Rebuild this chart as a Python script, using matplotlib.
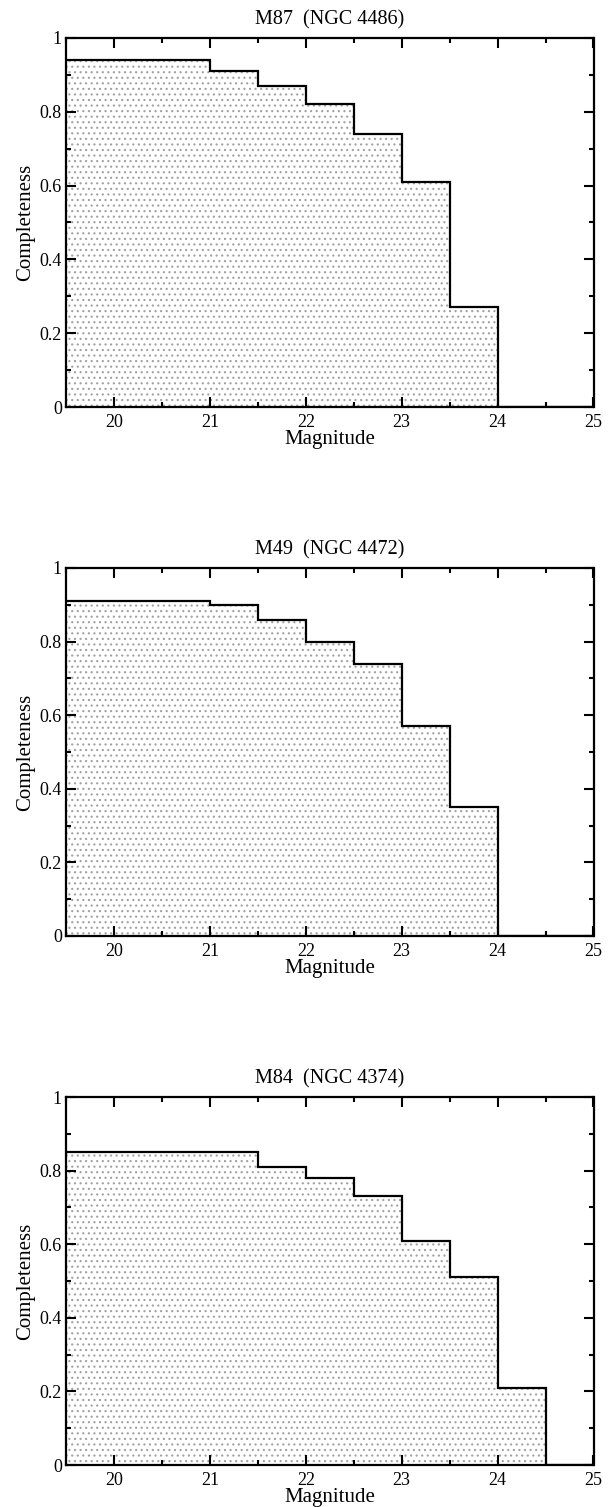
import matplotlib
matplotlib.use("Agg")
import matplotlib.pyplot as plt
from matplotlib.ticker import MultipleLocator, FixedLocator, FixedFormatter
import numpy as np

plt.rcParams['font.family'] = ['Liberation Serif', 'DejaVu Serif']
plt.rcParams['hatch.linewidth'] = 0.8

titles = ["M87  (NGC 4486)", "M49  (NGC 4472)", "M84  (NGC 4374)"]

m87_edges = [19.0, 21.0, 21.5, 22.0, 22.5, 23.0, 23.5, 24.0, 25.0]
m87_vals = [0.94, 0.91, 0.87, 0.82, 0.74, 0.61, 0.27, 0.0]

m49_edges = [19.0, 21.0, 21.5, 22.0, 22.5, 23.0, 23.5, 24.0, 25.0]
m49_vals = [0.91, 0.90, 0.86, 0.80, 0.74, 0.57, 0.35, 0.0]

m84_edges = [19.0, 21.5, 22.0, 22.5, 23.0, 23.5, 24.0, 24.5, 25.0]
m84_vals = [0.85, 0.81, 0.78, 0.73, 0.61, 0.51, 0.21, 0.0]

x_ticks = [20, 21, 22, 23, 24, 25]
x_labels = ["20", "21", "22", "23", "24", "25"]
y_ticks = [0, 0.2, 0.4, 0.6, 0.8, 1.0]
y_labels = ["0", "0.2", "0.4", "0.6", "0.8", "1"]

panels = [(m87_edges, m87_vals), (m49_edges, m49_vals), (m84_edges, m84_vals)]

W, H = 610, 1507
fig = plt.figure(figsize=(W / 100, H / 100), dpi=100)

left = 66 / W
width = (593.5 - 66) / W
tops = [38, 568, 1097]
bottoms = [407, 936, 1465]

for (edges, vals), title, top, bot in zip(panels, titles, tops, bottoms):
    ax = fig.add_axes([left, 1 - bot / H, width, (bot - top) / H])
    ax.stairs(vals, edges, baseline=0, fill=True, facecolor='white',
              edgecolor='#a0a0a0', linewidth=0, hatch='...', zorder=1)
    ax.stairs(vals, edges, baseline=None, color='black', linewidth=1.6, zorder=2)
    ax.set_xlim(19.5, 25)
    ax.set_ylim(0, 1)
    ax.xaxis.set_major_locator(FixedLocator(x_ticks))
    ax.xaxis.set_major_formatter(FixedFormatter(x_labels))
    ax.yaxis.set_major_locator(FixedLocator(y_ticks))
    ax.yaxis.set_major_formatter(FixedFormatter(y_labels))
    ax.xaxis.set_minor_locator(MultipleLocator(0.5))
    ax.yaxis.set_minor_locator(MultipleLocator(0.1))
    ax.tick_params(which='both', direction='in', top=True, right=True,
                   labeltop=False, labelright=False, width=1.5, labelsize=13)
    ax.tick_params(axis='x', which='major', pad=5)
    ax.tick_params(axis='y', which='major', pad=3)
    ax.tick_params(which='major', length=7.5)
    ax.tick_params(which='minor', length=3.8)
    for s in ax.spines.values():
        s.set_linewidth(1.6)
        s.set_zorder(3)
    ax.set_title(title, fontsize=14.5, pad=10)
    ax.set_xlabel("Magnitude", fontsize=15, labelpad=-1)
    ax.set_ylabel("Completeness", fontsize=15, labelpad=3)

fig.savefig("out.png", dpi=100)
